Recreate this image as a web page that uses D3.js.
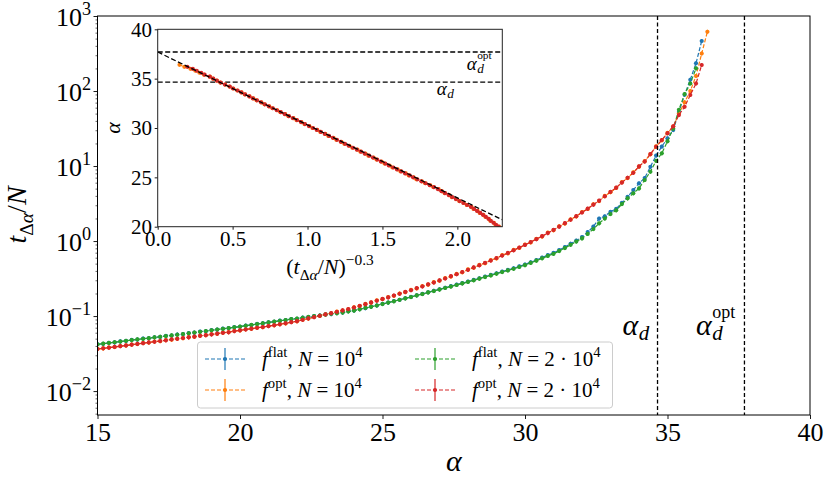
<!DOCTYPE html>
<html><head><meta charset="utf-8">
<script src="https://cdn.jsdelivr.net/npm/d3@7"></script>
<style>body{margin:0;background:#fff}text{white-space:pre}</style>
</head><body>
<svg id="c" width="830" height="482"></svg>
<script>
// ---------------- data ----------------
const alpha = [15.0,15.2,15.4,15.6,15.8,16.0,16.2,16.4,16.6,16.8,
17.0,17.2,17.4,17.6,17.8,18.0,18.2,18.4,18.6,18.8,
19.0,19.2,19.4,19.6,19.8,20.0,20.2,20.4,20.6,20.8,
21.0,21.2,21.4,21.6,21.8,22.0,22.2,22.4,22.6,22.8,
23.0,23.2,23.4,23.6,23.8,24.0,24.2,24.4,24.6,24.8,
25.0,25.2,25.4,25.6,25.8,26.0,26.2,26.4,26.6,26.8,
27.0,27.2,27.4,27.6,27.8,28.0,28.2,28.4,28.6,28.8,
29.0,29.2,29.4,29.6,29.8,30.0,30.2,30.4,30.6,30.8,
31.0,31.2,31.4,31.6,31.8,32.0,32.2,32.4,32.6,32.8,
33.0,33.2,33.4,33.6,33.8,34.0,34.2,34.4,34.6,34.8,
35.0,35.2,35.4,35.6,35.8,36.0,36.2,36.4];

// f^flat, N = 10^4 (blue)
const tFlatN1 = [0.0421,0.0427,0.0440,0.0446,0.0459,0.0466,0.0481,0.0486,0.0502,0.0506,
0.0522,0.0528,0.0545,0.0550,0.0568,0.0573,0.0593,0.0600,0.0621,0.0628,
0.0650,0.0658,0.0680,0.0689,0.0712,0.0721,0.0747,0.0759,0.0786,0.0798,
0.0826,0.0840,0.0869,0.0884,0.0914,0.0921,0.0953,0.0971,0.1001,0.1018,
0.1055,0.1062,0.1097,0.1113,0.1159,0.1183,0.1238,0.1274,0.1338,0.1383,
0.1456,0.1511,0.1583,0.1647,0.1729,0.1802,0.1893,0.1975,0.2075,0.2175,
0.2275,0.2384,0.2503,0.2621,0.2748,0.2885,0.3030,0.3185,0.3358,0.3531,
0.3722,0.3913,0.4122,0.4341,0.4593,0.4867,0.5217,0.5593,0.6023,0.6490,
0.6948,0.7585,0.8336,0.9212,1.015,1.129,1.320,1.560,1.995,2.138,
2.455,2.692,3.236,3.890,4.786,5.888,6.918,9.772,13.80,18.20,
23.44,30.20,52.48,89.13,141.3,234.4,464.5];

// f^opt, N = 10^4 (orange)
const tOptN1 = [0.0366,0.0370,0.0381,0.0386,0.0399,0.0404,0.0417,0.0423,0.0437,0.0443,
0.0457,0.0463,0.0478,0.0484,0.0500,0.0507,0.0523,0.0530,0.0548,0.0555,
0.0572,0.0580,0.0601,0.0611,0.0634,0.0643,0.0666,0.0676,0.0701,0.0711,
0.0737,0.0752,0.0781,0.0798,0.0833,0.0851,0.0895,0.0925,0.0972,0.1005,
0.1058,0.1090,0.1146,0.1186,0.123,0.131,0.136,0.145,0.151,0.162,
0.168,0.179,0.186,0.200,0.208,0.224,0.233,0.251,0.262,0.283,
0.296,0.321,0.336,0.365,0.383,0.418,0.440,0.481,0.507,0.557,
0.587,0.648,0.687,0.761,0.810,0.898,0.960,1.072,1.148,1.292,
1.391,1.575,1.711,1.947,2.125,2.434,2.675,3.093,3.414,3.994,
4.480,5.106,6.095,6.918,8.222,9.795,11.61,14.32,18.28,22.02,
27.61,33.57,50.1,70.8,100.0,158.5,316.2,616.6];

// f^flat, N = 2·10^4 (green)
const tFlatN2 = [0.0419,0.0429,0.0438,0.0448,0.0457,0.0468,0.0478,0.0488,0.0498,0.0508,
0.0519,0.0530,0.0541,0.0552,0.0564,0.0575,0.0589,0.0603,0.0617,0.0631,
0.0646,0.0661,0.0676,0.0692,0.0708,0.0724,0.0743,0.0762,0.0782,0.0802,
0.0822,0.0843,0.0865,0.0887,0.0910,0.0924,0.0950,0.0975,0.0997,0.1018,
0.1045,0.1072,0.1088,0.1113,0.1150,0.1183,0.1229,0.1283,0.1329,0.1383,
0.1447,0.1511,0.1574,0.1647,0.1720,0.1793,0.1884,0.1966,0.2066,0.2157,
0.2257,0.2366,0.2475,0.2594,0.2721,0.2848,0.2994,0.3149,0.3312,0.3485,
0.3667,0.3858,0.4059,0.4268,0.4511,0.4775,0.5115,0.5471,0.5881,0.6326,
0.6755,0.7362,0.8073,0.8898,0.985,1.085,1.245,1.445,1.722,1.995,
2.291,2.570,3.112,3.707,4.325,5.035,6.501,8.395,11.75,14.79,
21.38,31.62,56.23,91.20,125.9,200.4];

// f^opt, N = 2·10^4 (red)
const tOptN2 = [0.0363,0.0372,0.0379,0.0388,0.0397,0.0406,0.0415,0.0425,0.0435,0.0445,
0.0455,0.0465,0.0475,0.0490,0.0498,0.0509,0.0520,0.0532,0.0545,0.0557,
0.0569,0.0583,0.0598,0.0608,0.0630,0.0646,0.0662,0.0679,0.0697,0.0714,
0.0733,0.0755,0.0776,0.0802,0.0828,0.0855,0.0891,0.0929,0.0968,0.1009,
0.1052,0.1094,0.114,0.119,0.124,0.130,0.137,0.144,0.152,0.160,
0.169,0.177,0.188,0.198,0.210,0.221,0.236,0.248,0.265,0.280,
0.299,0.317,0.340,0.361,0.387,0.413,0.445,0.475,0.513,0.550,
0.594,0.640,0.695,0.752,0.819,0.887,0.970,1.059,1.161,1.276,
1.406,1.556,1.730,1.923,2.148,2.404,2.704,3.055,3.451,3.945,
4.529,5.152,6.026,6.982,8.128,9.886,11.48,14.45,18.07,22.23,
27.29,33.88,47.86,61.66,88.51,125.9,222.3];

const seriesValues = [tFlatN1, tOptN1, tFlatN2, tOptN2];
const seriesColors = ["#1f77b4", "#ff7f0e", "#2ca02c", "#d62728"];
const seriesF = ["flat", "opt", "flat", "opt"];
const seriesN = ["10", "10", "2 · 10", "2 · 10"];
const relErr = 0.06;

const alphaD = 34.65;
const alphaDopt = 37.7;
const fitIntercept = 37.7;
const fitSlope = -7.39;
const insetExponent = -0.3;

const xTicks = [15, 20, 25, 30, 35, 40];
const yTickExps = [-2, -1, 0, 1, 2, 3];
const insetXTicks = [0, 0.5, 1.0, 1.5, 2.0];
const insetYTicks = [20, 25, 30, 35, 40];

// ---------------- helpers ----------------
const FONT = "'Liberation Serif','DejaVu Serif',serif";
const svg = d3.select('#c').style('font-family', FONT);

function mtext(parent, x, y, parts, size, anchor) {
  const t = parent.append('text').attr('x', x).attr('y', y)
    .attr('font-size', size).attr('text-anchor', anchor || 'start').attr('fill', '#000');
  let cur = 0;
  parts.forEach(p => {
    const s = p[0], st = p[1] || '';
    const sub = st.includes('b'), sup = st.includes('p');
    const fs = (sub || sup) ? size * 0.7 : size;
    const off = sub ? size * 0.25 : sup ? -size * 0.42 : 0;
    const ts = t.append('tspan').text(s).attr('font-size', fs).attr('dy', off - cur);
    cur = off;
    if (st.includes('i')) ts.attr('font-style', 'italic');
  });
  return t;
}
function alphaLabel(parent, x, y, size, sup) {
  const a = parent.append('text').attr('x', x).attr('y', y).attr('font-size', size)
    .attr('font-style', 'italic').text('α');
  const w = a.node().getComputedTextLength();
  if (sup) parent.append('text').attr('x', x + w + 0.5).attr('y', y - size * 0.58)
    .attr('font-size', size * 0.6).text(sup);
  parent.append('text').attr('x', x + w + 0.5).attr('y', y + size * 0.17)
    .attr('font-size', size * 0.7).attr('font-style', 'italic').text('d');
}
function drawSeries(g, pts, xs, ys, color) {
  const line = d3.line().x(d => xs(d[0])).y(d => ys(d[1]));
  g.append('path').attr('d', line(pts)).attr('fill', 'none').attr('stroke', color)
    .attr('stroke-width', 1.2).attr('stroke-dasharray', '4,2');
  g.selectAll(null).data(pts).enter().append('line')
    .attr('x1', d => xs(d[0])).attr('x2', d => xs(d[0]))
    .attr('y1', d => ys(d[2])).attr('y2', d => ys(d[3]))
    .attr('stroke', color).attr('stroke-width', 1.2);
  g.selectAll(null).data(pts).enter().append('circle')
    .attr('cx', d => xs(d[0])).attr('cy', d => ys(d[1])).attr('r', 2.1).attr('fill', color);
}

// ---------------- main axes ----------------
const x = d3.scaleLinear().domain([15, 40]).range([97.5, 810]);
const y = d3.scaleLog().domain([0.0048, 1000]).range([415, 16]);

svg.append('clipPath').attr('id', 'mainclip').append('rect')
  .attr('x', 97.5).attr('y', 16).attr('width', 712.5).attr('height', 399);

const gm = svg.append('g').attr('clip-path', 'url(#mainclip)');
seriesValues.forEach((vals, k) => {
  const pts = vals.map((t, i) => [alpha[i], t, t * (1 - relErr), t * (1 + relErr)]);
  drawSeries(gm, pts, x, y, seriesColors[k]);
});

[alphaD, alphaDopt].forEach(a => {
  svg.append('line').attr('x1', x(a)).attr('x2', x(a)).attr('y1', 16).attr('y2', 415)
    .attr('stroke', '#000').attr('stroke-width', 1.3).attr('stroke-dasharray', '4,2.5');
});

// x axis
const xa = svg.append('g').attr('transform', 'translate(0,415)')
  .call(d3.axisBottom(x).tickValues(xTicks).tickSize(4).tickPadding(4).tickFormat(d3.format('d')));
xa.select('.domain').remove();
xa.selectAll('text').attr('font-size', 26).attr('font-family', FONT).attr('fill', '#000');
xa.selectAll('line').attr('stroke', '#000').attr('stroke-width', 0.9);

// y axis: majors + minors
const majors = yTickExps.map(e => Math.pow(10, e));
const minors = [];
[-3, -2, -1, 0, 1, 2].forEach(e => { for (let m = 2; m <= 9; m++) { const v = m * Math.pow(10, e); if (v >= 0.0048 && v <= 1000) minors.push(v); } });
const ya = svg.append('g').attr('transform', 'translate(97.5,0)')
  .call(d3.axisLeft(y).tickValues(majors).tickSize(4).tickFormat(''));
ya.select('.domain').remove();
ya.selectAll('line').attr('stroke', '#000').attr('stroke-width', 0.9);
const yam = svg.append('g').attr('transform', 'translate(97.5,0)')
  .call(d3.axisLeft(y).tickValues(minors).tickSize(2).tickFormat(''));
yam.select('.domain').remove();
yam.selectAll('line').attr('stroke', '#000').attr('stroke-width', 0.6);
yTickExps.forEach(e => {
  mtext(svg, 91, y(Math.pow(10, e)) + 9.5, [['10'], [String(e).replace('-', '−'), 'p']], 26, 'end');
});

svg.append('rect').attr('x', 97.5).attr('y', 16).attr('width', 712.5).attr('height', 399)
  .attr('fill', 'none').attr('stroke', '#000').attr('stroke-width', 1);

// axis labels
mtext(svg, x(27.5), 471, [['α', 'i']], 30, 'middle');
mtext(svg, 0, 0, [['t', 'i'], ['Δ', 'b'], ['α', 'bi'], ['/'], ['N', 'i']], 28, 'middle')
  .attr('transform', 'translate(26,215) rotate(-90)');

// annotations
alphaLabel(svg, x(alphaD) - 35, 335, 30, null);
alphaLabel(svg, x(alphaDopt) - 48.5, 335, 30, 'opt');

// ---------------- legend ----------------
const lg = svg.append('g');
lg.append('rect').attr('x', 197.5).attr('y', 342).attr('width', 415).attr('height', 66)
  .attr('rx', 3).attr('fill', '#fff').attr('fill-opacity', 0.85).attr('stroke', '#cccccc').attr('stroke-width', 1);
const legPos = [[205, 359], [205, 390], [415, 359], [415, 390]];
seriesValues.forEach((v, k) => {
  const [lx, ly] = legPos[k];
  const c = seriesColors[k];
  lg.append('line').attr('x1', lx).attr('x2', lx + 40).attr('y1', ly).attr('y2', ly)
    .attr('stroke', c).attr('stroke-width', 1.2).attr('stroke-dasharray', '4,2');
  lg.append('line').attr('x1', lx + 20).attr('x2', lx + 20).attr('y1', ly - 11).attr('y2', ly + 11)
    .attr('stroke', c).attr('stroke-width', 1.2);
  lg.append('circle').attr('cx', lx + 20).attr('cy', ly).attr('r', 2.1).attr('fill', c);
  mtext(lg, lx + 57, ly + 7, [['f', 'i'], [seriesF[k], 'p'], [', '], ['N', 'i'], [' = ' + seriesN[k]], ['4', 'p']], 21, 'start');
});

// ---------------- inset ----------------
const xi = d3.scaleLinear().domain([0, 2.3]).range([157.7, 502.3]);
const yi = d3.scaleLinear().domain([20, 40]).range([226.7, 29.3]);
const gi = svg.append('g');
gi.append('rect').attr('x', 157.7).attr('y', 29.3).attr('width', 344.6).attr('height', 197.4).attr('fill', '#fff');
svg.append('clipPath').attr('id', 'insclip').append('rect')
  .attr('x', 157.7).attr('y', 29.3).attr('width', 344.6).attr('height', 197.4);
const gic = gi.append('g').attr('clip-path', 'url(#insclip)');
[alphaDopt, alphaD].forEach(a => {
  gic.append('line').attr('x1', xi(0)).attr('x2', xi(2.3)).attr('y1', yi(a)).attr('y2', yi(a))
    .attr('stroke', '#000').attr('stroke-width', 1.3).attr('stroke-dasharray', '5,2.5');
});
[1, 3].forEach(k => {
  const vals = seriesValues[k];
  const pts = vals.map((t, i) => [Math.pow(t, insetExponent), alpha[i], alpha[i], alpha[i]])
    .filter(d => d[1] >= 19.8);
  drawSeries(gic, pts, xi, yi, seriesColors[k]);
});
gic.append('line').attr('x1', xi(0)).attr('y1', yi(fitIntercept))
  .attr('x2', xi(2.3)).attr('y2', yi(fitIntercept + fitSlope * 2.3))
  .attr('stroke', '#000').attr('stroke-width', 1.3).attr('stroke-dasharray', '5,2.5');

const xia = gi.append('g').attr('transform', 'translate(0,226.7)')
  .call(d3.axisBottom(xi).tickValues(insetXTicks).tickSize(3).tickPadding(1.5).tickFormat(d3.format('.1f')));
xia.select('.domain').remove();
xia.selectAll('text').attr('font-size', 21).attr('font-family', FONT).attr('fill', '#000');
xia.selectAll('line').attr('stroke', '#000').attr('stroke-width', 0.9);
const yia = gi.append('g').attr('transform', 'translate(157.7,0)')
  .call(d3.axisLeft(yi).tickValues(insetYTicks).tickSize(3).tickPadding(2.7).tickFormat(d3.format('d')));
yia.select('.domain').remove();
yia.selectAll('text').attr('font-size', 21).attr('font-family', FONT).attr('fill', '#000');
yia.selectAll('line').attr('stroke', '#000').attr('stroke-width', 0.9);
gi.append('rect').attr('x', 157.7).attr('y', 29.3).attr('width', 344.6).attr('height', 197.4)
  .attr('fill', 'none').attr('stroke', '#222').attr('stroke-width', 1);

mtext(gi, xi(1.15), 274, [['('], ['t', 'i'], ['Δ', 'b'], ['α', 'bi'], ['/'], ['N', 'i'], [')'], ['−0.3', 'p']], 22, 'middle');
mtext(gi, 0, 0, [['α', 'i']], 22, 'middle').attr('transform', 'translate(120,128) rotate(-90)');
alphaLabel(gi, 466.7, 70, 19, 'opt');
alphaLabel(gi, 436.7, 95, 19, null);
</script>
</body></html>
